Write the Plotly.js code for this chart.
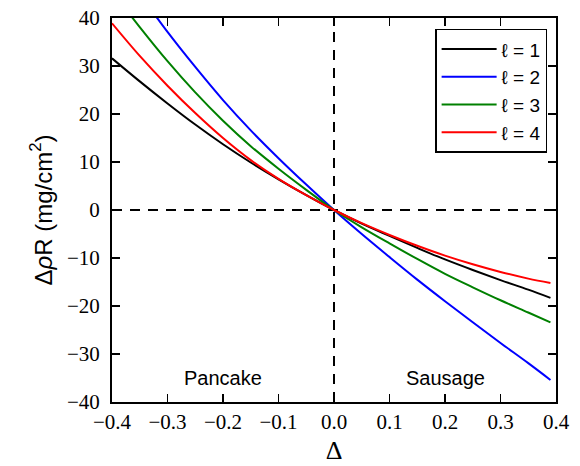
<!DOCTYPE html>
<html>
<head>
<meta charset="utf-8">
<script src="https://cdn.plot.ly/plotly-3.0.1.min.js"></script>
<style>html,body{margin:0;padding:0;background:#fff;}#chart{width:580px;height:466px;}</style>
</head>
<body>
<div id="chart"></div>
<script>
// Δ values (x axis)
var delta = [-0.4, -0.35, -0.3, -0.25, -0.2, -0.15, -0.1, -0.05, 0, 0.05, 0.1, 0.15, 0.2, 0.25, 0.3, 0.35, 0.39];
// ΔρR (mg/cm^2) for each mode ℓ
var l1 = [31.6, 26.8, 22.2, 17.8, 13.7, 9.9, 6.4, 3.1, 0, -2.85, -5.4, -7.9, -10.3, -12.5, -14.6, -16.6, -18.3];
var l2 = [53.0, 45.0, 37.1, 29.8, 22.9, 16.6, 10.8, 5.3, 0, -5.0, -9.8, -14.5, -19.0, -23.4, -27.7, -31.9, -35.4];
var l3 = [45.6, 38.1, 31.0, 24.5, 18.6, 13.3, 8.6, 4.2, 0, -3.6, -6.95, -10.2, -13.3, -16.1, -18.8, -21.35, -23.4];
var l4 = [38.9, 32.1, 25.9, 20.2, 15.0, 10.4, 6.5, 3.1, 0, -2.75, -5.2, -7.45, -9.5, -11.3, -12.9, -14.3, -15.2];
var seriesNames = ['ℓ = 1', 'ℓ = 2', 'ℓ = 3', 'ℓ = 4'];
var seriesColors = ['#000000', '#0000ff', '#008000', '#ff0000'];
var xTicks = [-0.4, -0.3, -0.2, -0.1, 0.0, 0.1, 0.2, 0.3, 0.4];
var yTicks = [-40, -30, -20, -10, 0, 10, 20, 30, 40];
var regionLabels = ['Pancake', 'Sausage'];
var regionX = [-0.2, 0.2];
var regionY = [-35, -35];
var refX = 0, refY = 0;

var ys = [l1, l2, l3, l4];
var traces = ys.map(function (y, i) {
  return {
    x: delta, y: y, type: 'scatter', mode: 'lines', name: seriesNames[i],
    line: {color: seriesColors[i], width: 2, shape: 'spline', smoothing: 1}
  };
});

var serif = '"Liberation Serif", "Times New Roman", serif';
var sans = '"Liberation Sans", Arial, sans-serif';

var layout = {
  width: 580, height: 466,
  margin: {l: 112, r: 24, t: 18, b: 64},
  paper_bgcolor: '#fff', plot_bgcolor: '#fff',
  showlegend: true,
  legend: {
    x: 0.98, y: 0.972, xanchor: 'right', yanchor: 'top',
    bgcolor: '#fff', bordercolor: '#000', borderwidth: 1.5,
    font: {family: sans, size: 19, color: '#000'},
    itemwidth: 55
  },
  xaxis: {
    range: [-0.4, 0.4], tickvals: xTicks, tickformat: '.1f',
    ticks: 'inside', ticklen: 8, tickwidth: 1.3, tickcolor: '#000',
    showline: true, linecolor: '#000', linewidth: 2, mirror: 'ticks',
    showgrid: false, zeroline: false,
    tickfont: {family: serif, size: 21, color: '#000'},
    title: {text: 'Δ', font: {family: serif, size: 26, color: '#000'}, standoff: 8}
  },
  yaxis: {
    range: [-40, 40], tickvals: yTicks,
    ticks: 'inside', ticklen: 8, tickwidth: 1.3, tickcolor: '#000',
    showline: true, linecolor: '#000', linewidth: 2, mirror: 'ticks',
    showgrid: false, zeroline: false,
    tickfont: {family: serif, size: 21, color: '#000'},
    ticklabelstandoff: 6,
    title: {text: 'Δ<i>ρ</i>R (mg/cm<sup>2</sup>)', font: {family: sans, size: 24, color: '#000'}, standoff: 8}
  },
  shapes: [
    {type: 'line', xref: 'x', yref: 'paper', x0: refX, x1: refX, y0: 0, y1: 1,
     line: {color: '#000', width: 2, dash: '10px,8px'}, layer: 'below'},
    {type: 'line', xref: 'paper', yref: 'y', x0: 0, x1: 1, y0: refY, y1: refY,
     line: {color: '#000', width: 2, dash: '10px,8px'}, layer: 'below'}
  ],
  annotations: regionLabels.map(function (t, i) {
    return {x: regionX[i], y: regionY[i], xref: 'x', yref: 'y', text: t, showarrow: false,
            font: {family: sans, size: 20, color: '#000'}};
  })
};

Plotly.newPlot('chart', traces, layout, {displayModeBar: false, staticPlot: true});
</script>
</body>
</html>
